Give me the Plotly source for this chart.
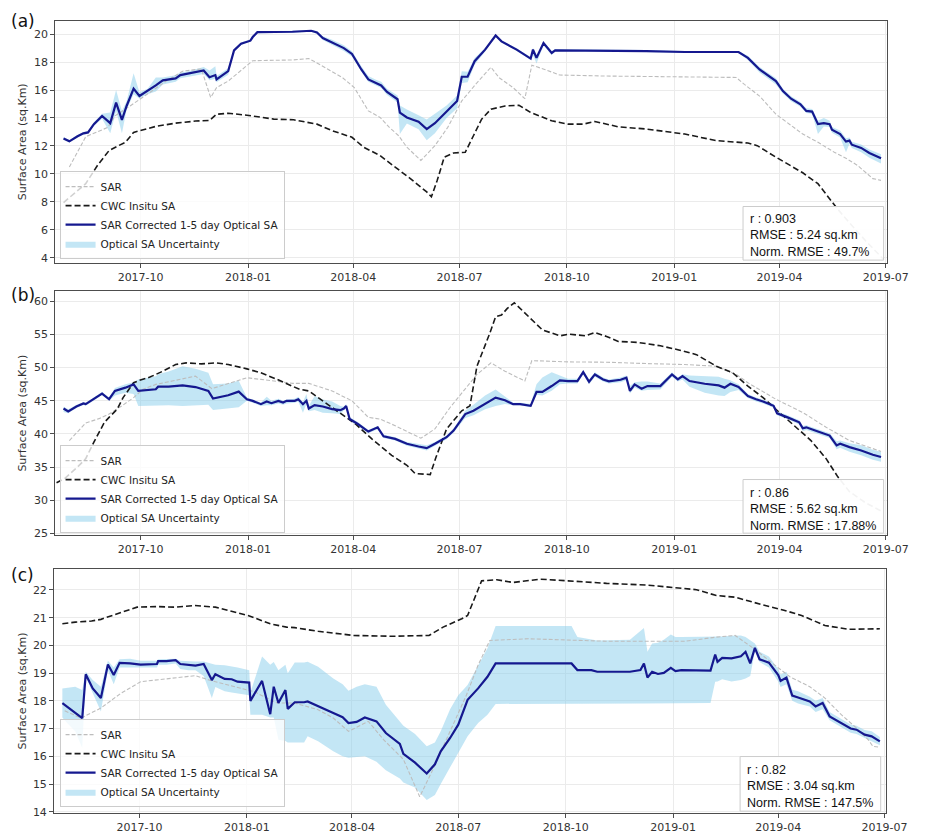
import pandas as pd
import plotly.graph_objects as go

W, H = 932, 837
EPOCH = pd.Timestamp("2017-10-01")  # day 0 of the day-offset arrays below

# ---------------- Panel (a) ----------------
a_opt_days = [-66, -61, -54, -49, -45, -40, -33, -26, -21, -16, -12, -6, -1, 6, 13, 19, 30, 34, 41, 54,
              59, 64, 65, 75, 80, 86, 94, 96, 100, 111, 130, 146, 151, 156, 164, 174, 181, 189, 195, 201,
              206, 211, 220, 222, 228, 238, 245, 252, 262, 271, 275, 280, 286, 295, 304, 309, 322, 334, 336, 339,
              345, 352, 355, 366, 399, 433, 466, 490, 512, 520, 530, 544, 550, 557, 565, 570, 575, 580, 585, 590,
              592, 599, 604, 607, 609, 617, 624, 634]
a_opt = [12.54, 12.33, 12.69, 12.9, 12.97, 13.56, 14.15, 13.63, 15.1, 13.87, 14.86, 16.1, 15.57, 15.93, 16.33, 16.69, 16.83, 17.07, 17.18, 17.4,
         16.92, 17.07, 16.76, 17.35, 18.84, 19.31, 19.53, 19.79, 20.14, 20.14, 20.17, 20.24, 20.12, 19.72, 19.41, 19.0, 18.58, 17.47, 16.76, 16.52,
         16.33, 15.86, 15.34, 14.39, 14.04, 13.73, 13.21, 13.63, 14.44, 15.22, 16.95, 16.95, 18.06, 18.89, 19.9, 19.48, 18.89, 18.25, 18.89, 18.3,
         19.36, 18.65, 18.84, 18.84, 18.84, 18.79, 18.72, 18.70, 18.72, 18.30, 17.47, 16.64, 15.93, 15.38, 14.98, 14.51, 14.46, 13.56, 13.63, 13.56,
         13.16, 12.85, 12.31, 12.38, 12.09, 11.86, 11.50, 11.12]
a_opt_lo = [12.45, 12.25, 12.6, 12.8, 12.87, 13.45, 13.95, 12.9, 14.5, 12.9, 14.6, 15.7, 15.4, 15.7, 15.9, 16.4, 16.6, 16.85, 16.95, 17.15,
            16.7, 16.8, 16.55, 17.1, 18.75, 19.22, 19.45, 19.7, 20.07, 20.07, 20.1, 20.17, 20.02, 19.58, 19.25, 18.8, 18.4, 17.3, 16.6, 16.35,
            16.15, 15.65, 15.1, 12.85, 13.6, 13.2, 12.4, 12.9, 14.0, 14.7, 16.5, 16.55, 17.8, 18.75, 19.82, 19.4, 18.8, 18.15, 18.5, 17.9,
            19.2, 18.5, 18.75, 18.77, 18.77, 18.72, 18.65, 18.63, 18.65, 18.15, 17.25, 16.4, 15.75, 15.2, 14.8, 14.35, 14.3, 12.85, 13.4, 13.35,
            12.95, 12.6, 11.55, 12.15, 11.85, 11.55, 11.15, 10.75]
a_opt_hi = [12.62, 12.42, 12.78, 13.0, 13.07, 13.7, 14.3, 14.4, 16.0, 14.5, 15.2, 17.2, 15.85, 16.1, 16.9, 16.9, 17.05, 17.25, 17.35, 17.65,
            17.4, 17.7, 17.0, 17.55, 18.95, 19.4, 19.62, 19.88, 20.2, 20.2, 20.24, 20.3, 20.22, 19.85, 19.6, 19.2, 18.78, 17.7, 17.0, 16.75,
            16.6, 16.1, 15.6, 14.9, 14.6, 14.2, 13.9, 14.3, 14.9, 15.6, 17.35, 17.3, 18.3, 19.0, 19.98, 19.56, 18.98, 18.35, 19.0, 18.5,
            19.45, 18.8, 18.93, 18.91, 18.91, 18.86, 18.79, 18.77, 18.8, 18.45, 17.65, 16.85, 16.1, 15.55, 15.15, 14.7, 14.65, 13.8, 14.0, 13.8,
            13.35, 13.1, 12.55, 12.6, 12.3, 12.1, 11.75, 11.4]
a_sar_days = [-61, -47, -28, -22, -9, 5, 22, 36, 52, 60, 65, 75, 86, 96, 130, 144, 151, 173, 183, 189,
              195, 205, 213, 221, 228, 240, 252, 263, 275, 288, 300, 307, 319, 329, 335, 346, 359, 399, 466, 510,
              517, 530, 544, 555, 567, 580, 594, 604, 614, 627, 634]
a_sar = [10.49, 12.66, 13.33, 14.15, 14.86, 15.69, 16.64, 17.35, 17.51, 15.46, 16.17, 16.64, 17.42, 18.1, 18.15, 18.25, 17.94, 16.88, 16.17, 15.34,
         14.51, 14.04, 13.33, 12.73, 11.91, 10.96, 12.02, 13.33, 15.22, 16.52, 17.63, 16.88, 16.17, 15.38, 17.78, 17.47, 17.07, 17.0, 16.92, 16.9,
         16.4, 15.57, 14.27, 13.56, 12.85, 12.26, 11.55, 11.12, 10.6, 9.66, 9.54]
a_cwc_days = [-66, -52, -47, -37, -27, -19, -13, -6, 2, 13, 30, 47, 59, 65, 75, 91, 114, 131, 151, 164,
              181, 191, 205, 218, 231, 245, 249, 254, 260, 268, 278, 285, 292, 300, 312, 324, 334, 352, 366, 379,
              389, 409, 433, 466, 493, 520, 528, 544, 567, 580, 590, 596, 607, 621, 636]
a_cwc = [7.95, 8.99, 9.30, 10.6, 11.67, 12.02, 12.26, 12.97, 13.14, 13.4, 13.63, 13.78, 13.82, 14.27, 14.34, 14.2, 13.92, 13.87, 13.56, 13.09,
         12.62, 11.91, 11.31, 10.49, 9.66, 8.71, 8.36, 9.54, 11.2, 11.5, 11.55, 12.73, 13.92, 14.63, 14.86, 14.91, 14.39, 13.8, 13.56, 13.56,
         13.75, 13.37, 13.21, 12.85, 12.38, 12.21, 12.02, 11.2, 10.08, 9.30, 8.24, 7.57, 6.5, 5.2, 3.9]
a_stats = ["r : 0.903", "RMSE : 5.24 sq.km", "Norm. RMSE : 49.7%"]

# ---------------- Panel (b) ----------------
b_opt_days = [-66, -62, -55, -49, -47, -40, -33, -27, -22, -13, -6, -2, 8, 13, 15, 24, 36, 47, 58, 62,
              75, 84, 91, 96, 103, 108, 112, 118, 122, 125, 132, 135, 139, 142, 144, 149, 156, 164, 171, 174,
              176, 179, 186, 195, 203, 208, 218, 228, 238, 245, 252, 262, 268, 278, 285, 295, 304, 312, 319, 325,
              334, 339, 344, 352, 359, 366, 374, 379, 384, 389, 396, 401, 411, 416, 419, 423, 429, 434, 445, 455,
              460, 464, 470, 483, 495, 500, 505, 512, 520, 527, 533, 542, 545, 554, 564, 567, 570, 580, 590, 596,
              599, 607, 617, 627, 634]
b_opt = [43.83, 43.38, 44.13, 44.58, 44.48, 45.22, 46.07, 45.22, 46.47, 46.97, 47.46, 46.47, 46.62, 46.72, 47.11, 47.11, 47.31, 47.06, 46.47, 45.32,
         45.82, 46.37, 45.22, 44.98, 44.48, 44.88, 44.63, 44.98, 44.73, 44.98, 44.98, 45.22, 44.48, 45.0, 43.83, 44.33, 44.13, 43.73, 43.58, 43.83,
         44.2, 42.24, 41.49, 40.35, 40.99, 39.65, 39.25, 38.51, 38.11, 37.86, 38.51, 39.5, 40.5, 42.99, 43.48, 44.58, 45.47, 45.07, 44.48, 44.48,
         44.23, 46.32, 46.32, 47.21, 48.06, 47.96, 47.96, 49.3, 47.86, 48.96, 48.21, 47.91, 48.16, 48.46, 46.47, 47.46, 46.82, 47.21, 47.21, 48.96,
         48.21, 48.71, 47.96, 47.56, 47.31, 46.97, 47.56, 47.06, 45.72, 45.22, 44.88, 44.23, 43.09, 42.49, 41.74, 40.85, 40.99, 40.35, 39.75, 38.26,
         38.51, 38.01, 37.51, 36.87, 36.52]
b_opt_lo = [43.3, 43.1, 43.9, 44.35, 44.25, 45.0, 45.85, 45.0, 45.8, 46.2, 46.0, 44.2, 44.2, 44.3, 44.3, 44.3, 44.2, 44.3, 44.4, 43.6,
            43.8, 44.0, 45.0, 44.7, 44.2, 44.3, 44.3, 44.6, 44.4, 44.6, 44.7, 44.9, 43.2, 44.6, 43.4, 43.6, 43.2, 43.1, 43.0, 43.5,
            43.9, 42.0, 41.2, 40.1, 40.7, 39.4, 39.0, 38.2, 37.8, 37.5, 38.2, 39.2, 40.2, 42.4, 42.8, 43.7, 44.2, 44.5, 44.3, 44.3,
            44.0, 45.9, 45.8, 46.5, 47.5, 47.6, 47.6, 49.0, 47.5, 48.6, 47.9, 47.6, 47.8, 48.1, 46.1, 47.0, 46.5, 46.6, 46.7, 48.6,
            47.9, 48.2, 47.1, 46.2, 45.8, 45.7, 46.3, 46.6, 45.4, 44.9, 44.6, 43.95, 42.8, 42.2, 41.4, 40.4, 40.6, 40.0, 39.4, 37.7,
            37.9, 37.3, 36.8, 36.1, 35.8]
b_opt_hi = [44.1, 43.7, 44.35, 44.8, 44.7, 45.45, 46.3, 45.5, 46.9, 47.5, 47.8, 48.2, 48.5, 48.7, 49.0, 49.4, 50.2, 49.8, 49.2, 47.5,
            47.6, 48.0, 45.5, 45.2, 44.75, 45.6, 45.0, 45.3, 45.0, 45.2, 45.3, 45.6, 44.8, 46.0, 44.2, 45.7, 45.2, 44.9, 44.2, 44.1,
            44.5, 42.5, 41.8, 40.6, 41.2, 39.9, 39.5, 38.8, 38.5, 38.3, 38.8, 39.8, 40.8, 43.5, 44.4, 45.8, 46.7, 45.6, 44.7, 44.7,
            44.5, 47.5, 48.5, 49.3, 48.8, 48.3, 48.3, 49.6, 48.2, 49.3, 48.5, 48.2, 48.5, 48.8, 47.2, 47.8, 47.9, 47.9, 47.6, 49.3,
            48.5, 49.0, 48.8, 48.7, 48.6, 48.3, 48.1, 47.5, 46.0, 45.5, 45.15, 44.5, 43.4, 42.8, 42.05, 41.2, 41.3, 40.7, 40.1, 38.9,
            39.0, 38.6, 38.3, 37.6, 37.3]
b_sar_days = [-61, -47, -35, -27, -16, -6, 2, 13, 27, 47, 61, 75, 91, 103, 130, 144, 164, 181, 195, 205,
              218, 240, 252, 265, 278, 288, 300, 312, 329, 335, 366, 399, 433, 466, 493, 510, 520, 544, 567, 587,
              607, 634]
b_sar = [39.0, 41.64, 42.34, 42.99, 44.23, 45.47, 46.72, 47.46, 47.96, 48.71, 46.82, 47.61, 48.46, 48.21, 47.61, 47.61, 46.47, 44.98, 42.49, 42.24,
         41.24, 39.35, 40.75, 43.98, 46.72, 48.96, 50.7, 49.45, 47.96, 51.04, 50.85, 50.8, 50.6, 50.45, 50.2, 48.96, 47.71, 45.22, 43.23, 40.99,
         39.0, 37.36]
b_cwc_days = [-72, -65, -54, -47, -40, -31, -27, -20, -15, -6, -1, 8, 19, 30, 39, 52, 65, 75, 91, 103,
              117, 136, 144, 158, 171, 184, 198, 215, 228, 235, 248, 253, 262, 275, 282, 288, 299, 304, 309, 314,
              320, 332, 344, 359, 367, 381, 389, 399, 409, 426, 445, 460, 476, 493, 507, 520, 533, 547, 560, 574,
              587, 597, 607, 621, 636]
b_cwc = [32.64, 33.28, 35.02, 36.27, 38.76, 41.74, 42.49, 43.73, 45.47, 47.71, 48.06, 48.56, 49.45, 50.45, 50.7, 50.55, 50.7, 50.45, 49.8, 49.2,
         48.21, 46.72, 46.47, 44.73, 42.99, 41.49, 39.25, 36.77, 35.27, 34.03, 33.88, 36.52, 40.75, 43.48, 44.23, 50.2, 55.17, 57.66, 57.91, 58.91,
         59.75, 57.66, 55.67, 54.78, 55.02, 54.78, 55.27, 54.68, 53.93, 53.78, 53.28, 52.69, 51.94, 50.2, 49.2, 47.21, 45.47, 43.23, 41.24, 39.0,
         36.27, 33.53, 31.3, 29.6, 28.2]
b_stats = ["r : 0.86", "RMSE : 5.62 sq.km", "Norm. RMSE : 17.88%"]

# ---------------- Panel (c) ----------------
c_opt_days = [-66, -62, -55, -49, -46, -40, -33, -27, -22, -17, -8, 1, 15, 16, 23, 31, 35, 42, 48, 55,
              62, 65, 73, 79, 84, 94, 95, 105, 112, 115, 119, 125, 127, 133, 141, 144, 153, 166, 174, 179,
              186, 193, 203, 211, 223, 226, 236, 246, 253, 258, 266, 273, 281, 290, 298, 305, 333, 370, 375, 387,
              392, 420, 429, 432, 435, 439, 444, 449, 455, 459, 464, 489, 493, 495, 499, 507, 515, 519, 523, 527,
              531, 539, 547, 549, 554, 559, 564, 574, 579, 585, 591, 601, 609, 614, 621, 627, 634]
c_opt = [17.92, 17.8, 17.56, 17.38, 18.96, 18.45, 18.1, 19.31, 18.93, 19.37, 19.35, 19.31, 19.33, 19.43, 19.43, 19.47, 19.33, 19.29, 19.27, 19.33,
         18.75, 18.96, 18.79, 18.78, 18.69, 18.66, 18.0, 18.72, 17.52, 18.51, 17.92, 18.39, 17.71, 17.95, 17.95, 17.98, 17.8, 17.56, 17.41, 17.2,
         17.24, 17.4, 17.26, 16.84, 16.45, 16.09, 15.77, 15.38, 15.71, 16.18, 16.66, 17.14, 18.04, 18.45, 18.87, 19.35, 19.35, 19.35, 19.11, 19.11,
         19.05, 19.05, 19.11, 19.35, 18.84, 19.05, 18.97, 19.01, 19.19, 19.07, 19.11, 19.09, 19.67, 19.41, 19.55, 19.53, 19.61, 19.77, 19.35, 19.91,
         19.5, 19.38, 18.93, 18.72, 18.84, 18.19, 18.12, 17.98, 17.8, 17.92, 17.44, 17.2, 17.0, 16.96, 16.78, 16.72, 16.54]
c_opt_lo = [17.4, 17.2, 16.9, 16.3, 18.85, 18.3, 17.62, 19.1, 18.6, 19.2, 19.2, 19.2, 19.2, 19.3, 19.3, 19.35, 19.15, 19.1, 19.1, 18.9,
            18.1, 18.5, 18.35, 18.3, 18.25, 18.2, 17.5, 17.5, 17.4, 17.4, 16.6, 16.55, 16.5, 16.5, 16.5, 16.72, 16.54, 16.18, 16.0, 15.95,
            15.97, 16.0, 15.8, 15.5, 15.2, 15.05, 14.87, 14.42, 14.6, 15.0, 15.6, 16.1, 16.72, 17.2, 17.5, 17.89, 17.89, 17.89, 17.89, 17.89,
            17.89, 17.9, 17.9, 17.9, 17.9, 17.9, 17.9, 17.9, 17.9, 17.9, 17.9, 17.92, 18.69, 18.7, 18.78, 18.7, 18.75, 18.81, 18.9, 19.8,
            19.4, 19.2, 18.7, 18.5, 18.6, 18.0, 17.9, 17.8, 17.6, 17.7, 17.3, 17.05, 16.85, 16.8, 16.65, 16.55, 16.4]
c_opt_hi = [18.45, 18.48, 18.51, 18.39, 19.05, 18.75, 18.51, 19.45, 19.2, 19.5, 19.52, 19.45, 19.45, 19.5, 19.52, 19.52, 19.45, 19.42, 19.42, 19.42,
            19.35, 19.3, 19.28, 19.25, 19.2, 19.1, 18.3, 19.6, 19.3, 19.4, 19.1, 19.3, 19.0, 19.38, 19.38, 19.41, 19.23, 18.81, 18.6, 18.36,
            18.51, 18.6, 18.51, 17.86, 17.26, 17.1, 16.8, 16.36, 16.5, 16.9, 17.7, 18.2, 18.57, 19.3, 19.9, 20.7, 20.7, 20.7, 20.3, 20.2,
            20.18, 20.2, 20.55, 20.63, 19.77, 20.07, 20.1, 20.2, 20.39, 20.3, 20.3, 20.3, 20.3, 20.3, 20.32, 20.35, 20.36, 20.3, 20.2, 20.07,
            19.77, 19.6, 19.15, 18.95, 19.05, 18.4, 18.35, 18.15, 18.0, 18.1, 17.6, 17.35, 17.15, 17.1, 16.95, 16.9, 16.7]
c_sar_days = [-64, -50, -33, -25, -16, 1, 15, 31, 48, 62, 76, 98, 118, 133, 153, 166, 179, 196, 209, 226,
              240, 250, 266, 280, 290, 300, 333, 400, 467, 494, 510, 527, 544, 557, 574, 587, 601, 614, 624, 628,
              634]
c_sar = [17.64, 17.38, 17.74, 17.98, 18.27, 18.69, 18.75, 18.84, 18.91, 18.72, 18.57, 18.33, 17.92, 17.92, 17.68, 17.38, 16.9, 17.26, 16.6, 15.89,
         14.54, 15.41, 16.9, 18.21, 19.29, 20.18, 20.24, 20.15, 20.15, 20.3, 20.36, 19.86, 19.29, 18.87, 18.51, 18.1, 17.5, 17.02, 16.6, 16.36,
         16.33]
c_cwc_days = [-66, -55, -41, -33, -22, -11, -2, 15, 31, 47, 65, 76, 93, 112, 126, 133, 153, 183, 216, 248,
              260, 276, 281, 293, 306, 320, 343, 367, 400, 434, 467, 477, 494, 510, 534, 551, 567, 587, 607, 621,
              634]
c_cwc = [20.78, 20.84, 20.88, 20.94, 21.1, 21.26, 21.38, 21.4, 21.38, 21.44, 21.38, 21.26, 21.08, 20.78, 20.66, 20.64, 20.51, 20.36, 20.33, 20.36,
         20.66, 20.96, 21.08, 22.33, 22.37, 22.27, 22.39, 22.33, 22.24, 22.18, 22.06, 22.01, 21.8, 21.74, 21.46, 21.28, 21.08, 20.72, 20.58, 20.58,
         20.6]
c_stats = ["r : 0.82", "RMSE : 3.04 sq.km", "Norm. RMSE : 147.5%"]

panel_labels = ["(a)", "(b)", "(c)"]
y_ranges = [[3.62, 20.97], [24.75, 61.5], [13.96, 22.75]]
y_ticks = [list(range(4, 21, 2)), list(range(25, 61, 5)), list(range(14, 23, 1))]
x_range = ["2017-07-20", "2019-07-02 02:00"]

# ---------------- layout helpers (pixel -> paper) ----------------
def px(v):
    return v / W


def py(v):
    return 1 - v / H


def to_dates(days):
    return EPOCH + pd.to_timedelta(days, unit="D")


# plot-area boxes in pixels: (left, right, top, bottom)
boxes = [(56.7, 908.4, 20.7, 265.0), (56.7, 908.4, 293.3, 539.0), (55.5, 907.2, 573.3, 818.7)]
legend_bottoms = [261, 537, 813]
stat_boxes = [(761, 905, 208, 262), (761, 905, 483, 537), (758, 902, 762, 817)]
label_y = [21, 297, 579]

panels = [
    (a_opt_days, a_opt, a_opt_lo, a_opt_hi, a_sar_days, a_sar, a_cwc_days, a_cwc, a_stats),
    (b_opt_days, b_opt, b_opt_lo, b_opt_hi, b_sar_days, b_sar, b_cwc_days, b_cwc, b_stats),
    (c_opt_days, c_opt, c_opt_lo, c_opt_hi, c_sar_days, c_sar, c_cwc_days, c_cwc, c_stats),
]

BAND = "rgba(135,206,235,0.5)"
NAVY = "#15188f"
FONT = "DejaVu Sans"

fig = go.Figure()
layout = dict(
    width=W, height=H,
    margin=dict(l=0, r=0, t=0, b=0),
    paper_bgcolor="white", plot_bgcolor="white",
    showlegend=True,
    shapes=[], annotations=[],
)

for i, (od, ov, olo, ohi, sd, sv, cd, cv, stats) in enumerate(panels):
    sfx = "" if i == 0 else str(i + 1)
    xa, ya = "x" + sfx, "y" + sfx
    leg = "legend" + sfx
    left, right, top, bottom = boxes[i]

    odates = list(to_dates(od))
    fig.add_trace(go.Scatter(
        x=odates + odates[::-1], y=list(ohi) + list(olo)[::-1],
        xaxis=xa, yaxis=ya, fill="toself", fillcolor=BAND,
        line=dict(width=0), mode="lines", name="Optical SA Uncertainty",
        legend=leg, legendrank=4, hoverinfo="skip"))
    fig.add_trace(go.Scatter(
        x=to_dates(sd), y=sv, xaxis=xa, yaxis=ya, mode="lines",
        line=dict(color="#bdbdbd", width=1.1, dash="4px,2px"),
        name="SAR", legend=leg, legendrank=1))
    fig.add_trace(go.Scatter(
        x=to_dates(cd), y=cv, xaxis=xa, yaxis=ya, mode="lines",
        line=dict(color="#1a1a1a", width=1.6, dash="6px,3px"),
        name="CWC Insitu SA", legend=leg, legendrank=2))
    fig.add_trace(go.Scatter(
        x=odates, y=ov, xaxis=xa, yaxis=ya, mode="lines",
        line=dict(color=NAVY, width=2.2),
        name="SAR Corrected 1-5 day Optical SA", legend=leg, legendrank=3))

    axis_common = dict(
        showline=True, linecolor="#4d4d4d", linewidth=1.2, mirror=True,
        showgrid=True, gridcolor="#ebebeb", gridwidth=1,
        ticks="outside", ticklen=4, tickcolor="#4d4d4d",
        tickfont=dict(family=FONT, size=11, color="#333333"),
        zeroline=False,
    )
    layout["xaxis" + sfx] = dict(
        axis_common, type="date", range=x_range, anchor=ya,
        domain=[px(left), px(right)],
        tick0="2017-10-01", dtick="M3", tickformat="%Y-%m")
    layout["yaxis" + sfx] = dict(
        axis_common, range=y_ranges[i], anchor=xa,
        domain=[py(bottom), py(top)],
        tickvals=y_ticks[i])

    layout[leg] = dict(
        x=px(61), y=py(legend_bottoms[i]), xanchor="left", yanchor="bottom",
        bgcolor="rgba(255,255,255,0.8)", bordercolor="#cccccc", borderwidth=1,
        font=dict(family=FONT, size=10.5, color="#222222"),
        tracegroupgap=0, itemwidth=30, traceorder="normal")

    # y-axis title
    layout["annotations"].append(dict(
        text="Surface Area (sq.Km)", textangle=-90, xref="paper", yref="paper",
        x=px(23), y=py((top + bottom) / 2), showarrow=False,
        font=dict(family=FONT, size=11, color="#333333"), xanchor="center", yanchor="middle"))
    # panel letter
    layout["annotations"].append(dict(
        text=panel_labels[i], xref="paper", yref="paper", x=px(9), y=py(label_y[i]),
        showarrow=False, xanchor="left", yanchor="middle",
        font=dict(family=FONT, size=17, color="#111111")))

    # statistics box
    bx0, bx1, by0, by1 = stat_boxes[i]
    layout["shapes"].append(dict(
        type="rect", xref="paper", yref="paper", layer="above",
        x0=px(bx0), x1=px(bx1), y0=py(by1), y1=py(by0),
        fillcolor="rgba(255,255,255,0.95)", line=dict(color="#cccccc", width=1)))
    layout["annotations"].append(dict(
        text="<br>".join(stats), xref="paper", yref="paper",
        x=px(bx0 + 5), y=py(by0 + 4), xanchor="left", yanchor="top", align="left",
        showarrow=False, font=dict(family="Liberation Sans", size=12.5, color="#111111")))

fig.update_layout(**layout)
fig.write_html("out.html")
